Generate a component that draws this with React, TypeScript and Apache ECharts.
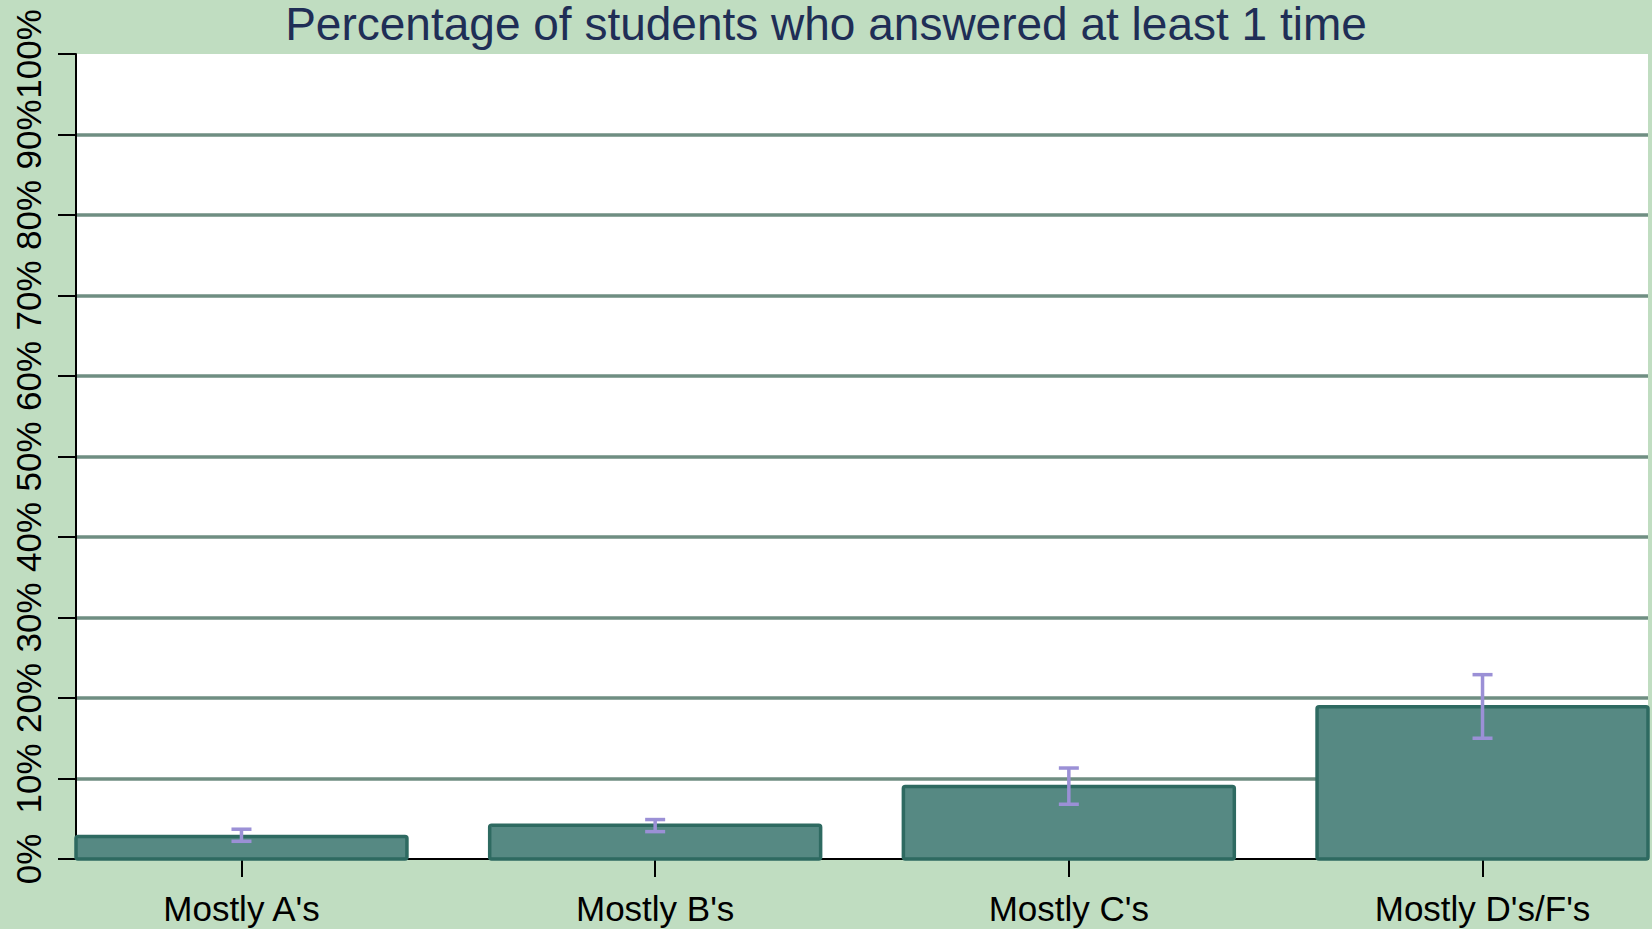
import React, { useEffect, useRef } from "react";
import * as echarts from "echarts";

const categories = ["Mostly A's", "Mostly B's", "Mostly C's", "Mostly D's/F's"];
const percentValues = [2.8, 4.2, 9.0, 18.9];
const errorLow = [2.2, 3.4, 6.8, 15.0];
const errorHigh = [3.7, 4.9, 11.3, 22.9];
const yTicks = [0, 10, 20, 30, 40, 50, 60, 70, 80, 90, 100];
const titleText = "Percentage of students who answered at least 1 time";

const BAR_HALF = 0.4;
const FONT = "'Liberation Sans', Arial, sans-serif";

export default function App() {
  const ref = useRef<HTMLDivElement>(null);
  useEffect(() => {
    if (!ref.current) return;
    const chart = echarts.init(ref.current, null, { renderer: "svg" });
    const catIdx = categories.map((_, i) => i);
    chart.setOption({
      animation: false,
      backgroundColor: "#C0DDC1",
      title: {
        text: titleText,
        left: "center",
        top: 7,
        padding: 0,
        textStyle: { fontFamily: FONT, fontSize: 46, lineHeight: 34, fontWeight: "normal", color: "#1F2E56" },
      },
      grid: {
        left: 76,
        right: 4,
        top: 54,
        bottom: 70,
        show: true,
        backgroundColor: "#FFFFFF",
        borderWidth: 0,
      },
      xAxis: {
        type: "value",
        min: -BAR_HALF,
        max: categories.length - 1 + BAR_HALF,
        splitLine: { show: false },
        axisLine: { show: true, onZero: false, lineStyle: { color: "#000", width: 2 } },
        axisTick: { show: true, customValues: catIdx, length: 18, lineStyle: { color: "#000", width: 2 } },
        axisLabel: {
          customValues: catIdx,
          formatter: (v: number) => categories[Math.round(v)] ?? "",
          fontFamily: FONT,
          fontSize: 35,
          color: "#000",
          margin: 32,
        },
      },
      yAxis: {
        type: "value",
        min: 0,
        max: 100,
        interval: 10,
        axisLine: { show: true, onZero: false, lineStyle: { color: "#000", width: 2 } },
        axisTick: { show: true, length: 18, lineStyle: { color: "#000", width: 2 } },
        axisLabel: {
          customValues: yTicks,
          formatter: (v: number) => `${v}%`,
          rotate: 90,
          fontFamily: FONT,
          fontSize: 35,
          color: "#000",
          margin: 30,
        },
        splitLine: {
          show: true,
          showMaxLine: false,
          showMinLine: false,
          lineStyle: { color: "#6F8E82", width: 3.5 },
        },
      },
      series: [
        {
          type: "custom",
          name: "bars",
          data: percentValues.map((v, i) => [i, v]),
          renderItem: (params: any, api: any) => {
            const x = api.value(0);
            const y = api.value(1);
            const p0 = api.coord([x - BAR_HALF, 0]);
            const p1 = api.coord([x + BAR_HALF, y]);
            return {
              type: "rect",
              shape: { x: p0[0], y: p1[1], width: p1[0] - p0[0], height: p0[1] - p1[1], r: 2 },
              style: { fill: "#568983", stroke: "#2E6A61", lineWidth: 3.5 },
            };
          },
          z: 3,
        },
        {
          type: "custom",
          name: "errors",
          data: errorLow.map((lo, i) => [i, lo, errorHigh[i]]),
          renderItem: (params: any, api: any) => {
            const x = api.value(0);
            const lo = api.coord([x, api.value(1)]);
            const hi = api.coord([x, api.value(2)]);
            const half = 10;
            const style = { stroke: "#9B90D6", lineWidth: 3.5 };
            return {
              type: "group",
              children: [
                { type: "line", shape: { x1: hi[0], y1: hi[1], x2: lo[0], y2: lo[1] }, style },
                { type: "line", shape: { x1: hi[0] - half, y1: hi[1], x2: hi[0] + half, y2: hi[1] }, style },
                { type: "line", shape: { x1: lo[0] - half, y1: lo[1], x2: lo[0] + half, y2: lo[1] }, style },
              ],
            };
          },
          z: 4,
        },
      ],
    });
    return () => chart.dispose();
  }, []);
  return <div ref={ref} style={{ position: "fixed", left: 0, top: 0, width: 1652, height: 929 }} />;
}
